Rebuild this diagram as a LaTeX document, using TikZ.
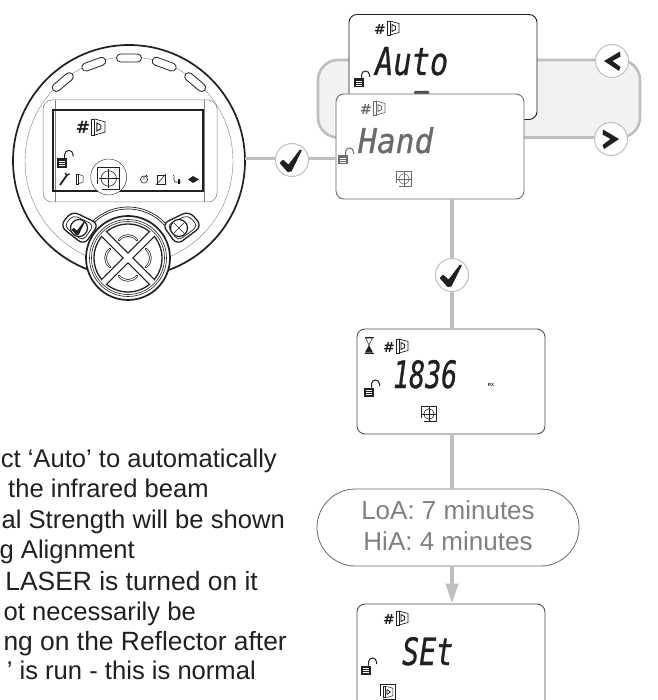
\documentclass[tikz,border=0pt]{standalone}
\usepackage{fontspec}
\usepackage{graphicx}
\setmainfont{Liberation Sans}
\newfontfamily\segfont[FakeBold=0.8]{DejaVu Sans Mono}
\newfontfamily\hashfont{DejaVu Sans}
\usetikzlibrary{arrows.meta,shapes.misc,calc}
\definecolor{ink}{HTML}{231F20}
\definecolor{wire}{HTML}{BFBFBF}
\definecolor{panel}{HTML}{F2F2F2}
\definecolor{dim}{HTML}{6A6A6A}
\definecolor{pilltext}{HTML}{808080}
\newcommand{\fs}[1]{\fontsize{#1}{#1}\selectfont}
\newcommand{\segtext}[3]{\resizebox{#1pt}{#2pt}{\segfont\itshape #3}}
\tikzset{
  x=1pt,y=-1pt,
  wireline/.style={draw=wire,line width=3.2pt},
  lcdbox/.style={draw,rounded corners=8pt,fill=white,minimum width=188pt,minimum height=105pt,inner sep=0pt,line width=0.9pt},
  roundbtn/.style={circle,draw=wire,fill=white,line width=1pt,minimum size=33pt,inner sep=0pt},
  note/.style={font=\fs{25.6},text=ink,anchor=base east,inner sep=0pt},
  widenote/.style={note,font=\fs{26.4}},
  hash/.style={font=\hashfont\bfseries\fs{14},inner sep=0pt},
  seg/.style={anchor=base west,inner sep=0pt},
  door/.pic={
    \draw[line width=.7pt] (-6,-7) rectangle (-3,7);
    \draw[line width=.7pt] (-3,-7) -- (6,-4.5) -- (6,4.5) -- (-3,7);
    \draw[line width=.9pt] (-1,-3.5) -- (2.5,-1.5) -- (2.5,1.5) -- (-1,3.5) -- cycle;
  },
  target/.pic={
    \draw[line width=1.1pt] (-8,4) -- (-8,-8) -- (8,-8) -- (8,8) -- (-5,8);
    \draw[line width=.6pt] (0,0) circle (5.5);
    \draw[line width=.5pt] (-7,0) -- (7,0) (0,-7) -- (0,7);
  },
  doorbox/.pic={
    \draw[line width=1.1pt] (-8,4) -- (-8,-8) -- (8,-8) -- (8,8) -- (-5,8);
    \draw[line width=.5pt] (-5,-6) rectangle (-2.5,6);
    \draw[line width=.5pt] (-2.5,-6) -- (5,-4) -- (5,4) -- (-2.5,6);
    \draw[line width=.7pt] (-1,-2.5) -- (2.5,0) -- (-1,2.5) -- cycle;
  },
  lock/.pic={
    \fill (-5,-4.5) rectangle (5,4.5);
    \draw[white,line width=.5pt] (-3,-2) -- (3,-2) (-3,0) -- (3,0) (-3,2) -- (3,2);
    \draw[line width=1pt] (2.5,-4.5) -- (2.5,-8) arc[start angle=180,end angle=360,radius=4] -- (10.5,-6);
  },
  checkmark/.pic={
    \fill[ink,rounded corners=.6pt] (-12.5,3) -- (-9,-.5) -- (-3.5,4.5) -- (8,-10.5) -- (10,-10) -- (-.5,11.5) -- (-4.5,12) -- cycle;
  },
}
\begin{document}
\begin{tikzpicture}
\useasboundingbox (0,0) rectangle (657,700);
\fill[white] (0,0) rectangle (657,700);

% ---- grey choice loop
\draw[wire,fill=panel,line width=2.6pt,rounded corners=20pt] (318,60) rectangle (640,137.5);

% ---- device
\coordinate (dc) at (129,161);
\draw[ink,line width=1.7pt,fill=white] (dc) circle (116);
\draw[gray,line width=.4pt] (dc) circle (104);
\foreach \a in {50,70,90,110,130}{
  \node[rounded rectangle,draw=ink,fill=white,line width=.8pt,minimum width=25pt,minimum height=8pt,inner sep=0pt,rotate=\a-90]
    at ($(dc)+({103*cos(\a)},{-103*sin(\a)})$) {};
}
% LCD window
\draw[gray,line width=.5pt,fill=white,rounded corners=9pt] (43,100) rectangle (217,202);
\draw[gray,line width=.4pt] (55,100) -- (55,202) (204,100) -- (204,202);
\draw[ink,line width=1.7pt] (53,110) rectangle (203,191);
\node[hash,text=ink,font=\hashfont\bfseries\fs{17}] (devhash) at (83,127) {\#};
\pic[ink,scale=1.15] at (98,127) {door};
\begin{scope}[color=ink]
\pic[scale=1.05] at (62,163) {lock};
\draw[line width=1.8pt] (60,185) -- (67,175);
\draw[line width=1.4pt] (65,173) -- (67,175) -- (69.5,174);
\draw[line width=.5pt] (76,174) rectangle (78.5,184);
\draw[line width=.5pt] (78.5,174) -- (83,176) -- (83,182) -- (78.5,184) -- cycle;
\draw[line width=.6pt] (144,179.5) circle (3.6);
\draw[line width=.8pt] (144,179.5) -- (144,176.5) (146,175) -- (147.5,176.5);
\draw[line width=.5pt] (157,175) rectangle (165,184);
\draw[line width=.6pt] (156,185) -- (166,174);
\draw[line width=.6pt] (173,175) .. controls (176,176) and (172,179) .. (175,182) -- (181,182);
\fill (178,179) rectangle (180,184);
\fill (188,179.5) -- (193,176) -- (199,179.5) -- (193,183) -- cycle;
\end{scope}
\draw[ink,line width=.4pt,fill=white] (108.7,177) circle (18);
\pic[ink,scale=1.4] at (108.7,178.5) {target};
% shoulder arcs above the keypad
\draw[ink,line width=.7pt] ($(128,258)+({51*cos(222)},{51*sin(222)})$) arc[start angle=222,end angle=318,radius=51];
\draw[ink,line width=.7pt] ($(128,258)+({49*cos(222)},{49*sin(222)})$) arc[start angle=222,end angle=318,radius=49];
% side buttons
\draw[ink,line width=1.3pt,fill=white,rounded corners=7pt] (60,226) -- (72,211) -- (99,224) -- (84,245) -- cycle;
\draw[ink,line width=.7pt,fill=white,rounded corners=5pt] (64,226) -- (73,215) -- (94,225) -- (83,241) -- cycle;
\draw[ink,line width=1.2pt,fill=white] (79,228) circle (8.5);
\pic[scale=.6] at (79,228) {checkmark};
\draw[ink,line width=1.3pt,fill=white,rounded corners=7pt] (202,226) -- (189,211) -- (162,224) -- (177,245) -- cycle;
\draw[ink,line width=.7pt,fill=white,rounded corners=5pt] (198,226) -- (188,215) -- (167,225) -- (178,241) -- cycle;
\draw[ink,line width=1.2pt,fill=white] (179,228) circle (8.5);
\draw[ink,line width=.6pt] (173.5,222.5) -- (184.5,233.5) (173.5,233.5) -- (184.5,222.5);
% keypad
\node[circle,draw=ink,fill=white,line width=1.7pt,minimum size=84pt,inner sep=0pt] (keys) at (128,258) {};
\draw[ink,line width=.6pt] (128,258) circle (38.5);
\draw[ink,line width=.6pt] (128,258) circle (36.5);
\draw[ink,line width=1.3pt] (128,258) circle (34);
\draw[ink,line width=8pt] (104.5,234.5) -- (151.5,281.5) (151.5,234.5) -- (104.5,281.5);
\draw[white,line width=5.4pt] (103,233) -- (153,283) (153,233) -- (103,283);
\foreach \w/\c in {2.4pt/ink,1pt/white}{
  \draw[\c,line width=\w,line cap=round] (119,240) .. controls (124,234) and (132,234) .. (137,240);
  \draw[\c,line width=\w,line cap=round] (119,276) .. controls (124,282) and (132,282) .. (137,276);
  \draw[\c,line width=\w,line cap=round] (110,249) .. controls (104,254) and (104,262) .. (110,267);
  \draw[\c,line width=\w,line cap=round] (146,249) .. controls (152,254) and (152,262) .. (146,267);
}

% ---- LCD boxes and connectors
\node[lcdbox,draw=ink] (autobox) at (443,67) {};
\fill[ink!80,rounded corners=1pt] (414,91) rectangle (429,95);
\coordinate (devedge) at (245,158.5);
\node[lcdbox,draw=dim] (handbox) at (430,146.5) {};
\node[lcdbox,draw=ink!80] (timebox) at (451,381.5) {};
\begin{scope}
\clip (0,0) rectangle (657,700);
\node[lcdbox,draw=ink!80] (setbox) at (451,656.5) {};
\end{scope}
\node[rounded rectangle,draw=dim,fill=white,line width=.8pt,minimum width=262pt,minimum height=77pt,inner sep=0pt] (pill) at (448,527.5) {};
\node[font=\fs{26},text=pilltext,anchor=base,inner sep=0pt] (loa) at (448,519) {LoA: 7 minutes};
\node[font=\fs{26},text=pilltext,anchor=base,inner sep=0pt] (hia) at (448,550) {HiA: 4 minutes};

\node[roundbtn] (chk1) at (292,160) {};
\node[roundbtn] (chk2) at (452,275) {};
\node[roundbtn] (prev) at (612,61) {};
\node[roundbtn] (next) at (611,139) {};
\pic at (chk1) {checkmark};
\pic at (chk2) {checkmark};
\fill[ink] (604,61) -- (620,51.5) -- (620.5,56.5) -- (612.5,61) -- (620.5,67) -- (619,71) -- cycle;
\fill[ink] (619,139) -- (603,129.5) -- (602.5,134.5) -- (610.5,139) -- (602.5,145) -- (604,149) -- cycle;
\draw[wireline] (devedge) -- (chk1.west |- devedge);
\draw[wireline] (chk1.east |- devedge) -- (handbox.west |- devedge);
\draw[wire,line width=4pt] (handbox.south -| chk2) -- (chk2.north);
\draw[wire,line width=4pt] (chk2.south) -- (timebox.north -| chk2);
\draw[wire,line width=4pt] (timebox.south -| chk2) -- (pill.north -| chk2);
\draw[wire,line width=4pt,-{Triangle[width=12pt,length=20pt]}] (pill.south -| chk2) -- (setbox.north -| chk2);

% ---- Auto
\begin{scope}[color=ink]
\node[hash,text=ink] (h1) at (380,29) {\#};
\pic at (393,28) {door};
\pic at (359,83) {lock};
\node[seg,text=ink] (t1) at (375,75) {\segtext{73}{28}{Auto}};
\end{scope}
% ---- Hand
\begin{scope}[color=dim]
\node[hash,text=dim] (h2) at (366,109) {\#};
\pic at (379,108) {door};
\pic at (343,160) {lock};
\node[seg,text=dim] (t2) at (358,153) {\segtext{75}{26}{Hand}};
\pic[scale=.95] at (404,179) {target};
\end{scope}
% ---- 1836
\begin{scope}[color=ink]
\draw[line width=.6pt] (365.5,338) -- (372.5,338) -- (369,345) -- cycle;
\fill (369,345) -- (373,352.5) -- (365,352.5) -- cycle;
\draw[line width=1pt] (364.5,337) -- (373.5,337) (364.5,353) -- (373.5,353);
\node[hash,text=ink] (h3) at (389,347) {\#};
\pic at (402,346) {door};
\pic at (369,392) {lock};
\node[seg,text=ink] (t3) at (393,388) {\segtext{64}{28}{1836}};
\node[font=\bfseries\fs{4.5},text=ink,inner sep=0pt] (rx) at (491,385) {RX};
\pic[scale=.95] at (429,414) {target};
\end{scope}
% ---- SEt
\begin{scope}[color=ink]
\node[hash,text=ink] (h4) at (389,619) {\#};
\pic at (402,618) {door};
\pic at (366,670) {lock};
\node[seg,text=ink] (t4) at (402,665) {\segtext{51}{28}{SEt}};
\pic[scale=.95] at (388,692) {doorbox};
\end{scope}

% ---- notes (cut off by the left edge in the original)
\node[note] (n1) at (277,467) {ct ‘Auto’ to automatically};
\node[note] (n2) at (209,497) {the infrared beam};
\node[note] (n3) at (285,528) {al Strength will be shown};
\node[note] (n4) at (135,558) {g Alignment};
\node[widenote] (n5) at (258,590) {LASER is turned on it};
\node[note] (n6) at (196,620) {ot necessarily be};
\node[widenote] (n7) at (287,650) {ng on the Reflector after};
\node[note] (n8) at (256,679) {’ is run - this is normal};
\end{tikzpicture}
\end{document}
